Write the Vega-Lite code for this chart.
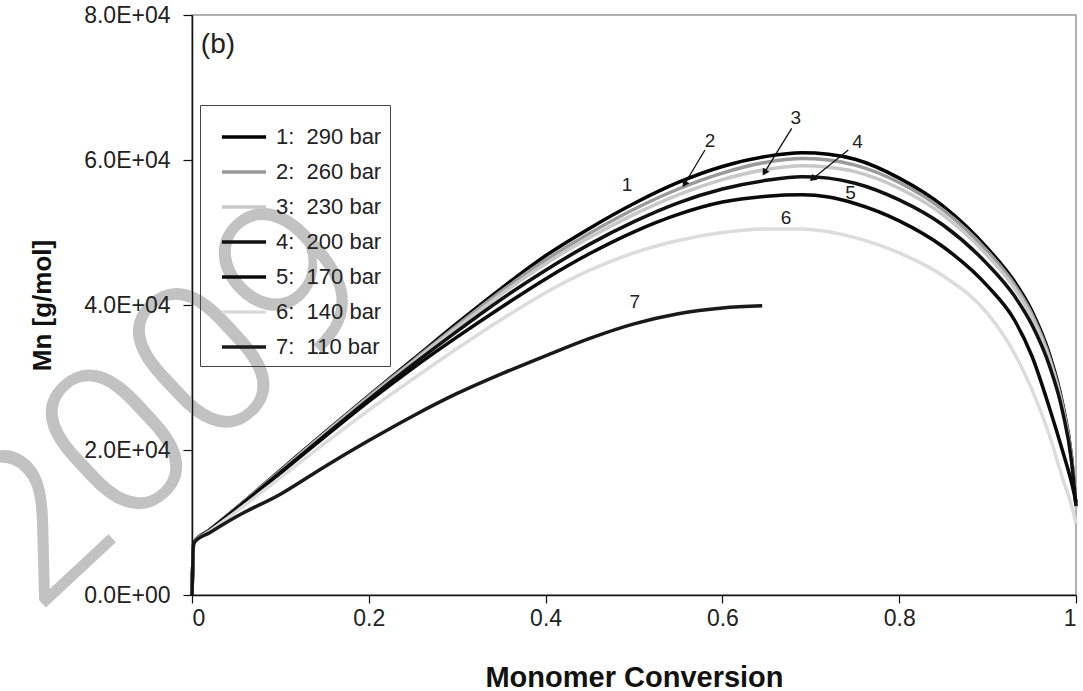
{
  "$schema": "https://vega.github.io/schema/vega-lite/v6.json",
  "width": 884,
  "height": 580,
  "autosize": {"type": "none"},
  "padding": {"left": 192, "top": 15, "right": 7, "bottom": 96},
  "background": "white",
  "config": {
    "font": "Liberation Sans",
    "view": {"stroke": "#999999", "strokeWidth": 1.5}
  },
  "datasets": {
    "curves": [
      {"series": "1:\u00a0 290 bar", "conversion": 0, "mn": 0},
      {"series": "1:\u00a0 290 bar", "conversion": 0.002, "mn": 7200},
      {"series": "1:\u00a0 290 bar", "conversion": 0.02, "mn": 9000},
      {"series": "1:\u00a0 290 bar", "conversion": 0.05, "mn": 12000},
      {"series": "1:\u00a0 290 bar", "conversion": 0.1, "mn": 17200},
      {"series": "1:\u00a0 290 bar", "conversion": 0.15, "mn": 22400},
      {"series": "1:\u00a0 290 bar", "conversion": 0.2, "mn": 27500},
      {"series": "1:\u00a0 290 bar", "conversion": 0.25, "mn": 32500},
      {"series": "1:\u00a0 290 bar", "conversion": 0.3, "mn": 37500},
      {"series": "1:\u00a0 290 bar", "conversion": 0.35, "mn": 42300},
      {"series": "1:\u00a0 290 bar", "conversion": 0.4, "mn": 46800},
      {"series": "1:\u00a0 290 bar", "conversion": 0.45, "mn": 50600},
      {"series": "1:\u00a0 290 bar", "conversion": 0.5, "mn": 54000},
      {"series": "1:\u00a0 290 bar", "conversion": 0.55, "mn": 56900},
      {"series": "1:\u00a0 290 bar", "conversion": 0.6, "mn": 59100},
      {"series": "1:\u00a0 290 bar", "conversion": 0.65, "mn": 60500},
      {"series": "1:\u00a0 290 bar", "conversion": 0.69, "mn": 61000},
      {"series": "1:\u00a0 290 bar", "conversion": 0.72, "mn": 60800},
      {"series": "1:\u00a0 290 bar", "conversion": 0.75, "mn": 60100},
      {"series": "1:\u00a0 290 bar", "conversion": 0.8, "mn": 57500},
      {"series": "1:\u00a0 290 bar", "conversion": 0.85, "mn": 53600},
      {"series": "1:\u00a0 290 bar", "conversion": 0.9, "mn": 47800},
      {"series": "1:\u00a0 290 bar", "conversion": 0.93, "mn": 43300},
      {"series": "1:\u00a0 290 bar", "conversion": 0.95, "mn": 39200},
      {"series": "1:\u00a0 290 bar", "conversion": 0.97, "mn": 33200},
      {"series": "1:\u00a0 290 bar", "conversion": 0.985, "mn": 26300},
      {"series": "1:\u00a0 290 bar", "conversion": 0.995, "mn": 19000},
      {"series": "1:\u00a0 290 bar", "conversion": 1.0, "mn": 12200},

      {"series": "2:\u00a0 260 bar", "conversion": 0, "mn": 0},
      {"series": "2:\u00a0 260 bar", "conversion": 0.002, "mn": 7200},
      {"series": "2:\u00a0 260 bar", "conversion": 0.02, "mn": 9000},
      {"series": "2:\u00a0 260 bar", "conversion": 0.05, "mn": 12000},
      {"series": "2:\u00a0 260 bar", "conversion": 0.1, "mn": 17100},
      {"series": "2:\u00a0 260 bar", "conversion": 0.15, "mn": 22300},
      {"series": "2:\u00a0 260 bar", "conversion": 0.2, "mn": 27400},
      {"series": "2:\u00a0 260 bar", "conversion": 0.25, "mn": 32300},
      {"series": "2:\u00a0 260 bar", "conversion": 0.3, "mn": 37200},
      {"series": "2:\u00a0 260 bar", "conversion": 0.35, "mn": 41900},
      {"series": "2:\u00a0 260 bar", "conversion": 0.4, "mn": 46200},
      {"series": "2:\u00a0 260 bar", "conversion": 0.45, "mn": 49900},
      {"series": "2:\u00a0 260 bar", "conversion": 0.5, "mn": 53200},
      {"series": "2:\u00a0 260 bar", "conversion": 0.55, "mn": 56000},
      {"series": "2:\u00a0 260 bar", "conversion": 0.6, "mn": 58200},
      {"series": "2:\u00a0 260 bar", "conversion": 0.65, "mn": 59700},
      {"series": "2:\u00a0 260 bar", "conversion": 0.69, "mn": 60200},
      {"series": "2:\u00a0 260 bar", "conversion": 0.72, "mn": 60000},
      {"series": "2:\u00a0 260 bar", "conversion": 0.75, "mn": 59300},
      {"series": "2:\u00a0 260 bar", "conversion": 0.8, "mn": 56900},
      {"series": "2:\u00a0 260 bar", "conversion": 0.85, "mn": 53100},
      {"series": "2:\u00a0 260 bar", "conversion": 0.9, "mn": 47400},
      {"series": "2:\u00a0 260 bar", "conversion": 0.93, "mn": 42900},
      {"series": "2:\u00a0 260 bar", "conversion": 0.95, "mn": 38800},
      {"series": "2:\u00a0 260 bar", "conversion": 0.97, "mn": 32800},
      {"series": "2:\u00a0 260 bar", "conversion": 0.985, "mn": 26000},
      {"series": "2:\u00a0 260 bar", "conversion": 0.995, "mn": 18800},
      {"series": "2:\u00a0 260 bar", "conversion": 1.0, "mn": 12200},

      {"series": "3:\u00a0 230 bar", "conversion": 0, "mn": 0},
      {"series": "3:\u00a0 230 bar", "conversion": 0.002, "mn": 7200},
      {"series": "3:\u00a0 230 bar", "conversion": 0.02, "mn": 9000},
      {"series": "3:\u00a0 230 bar", "conversion": 0.05, "mn": 11950},
      {"series": "3:\u00a0 230 bar", "conversion": 0.1, "mn": 17000},
      {"series": "3:\u00a0 230 bar", "conversion": 0.15, "mn": 22200},
      {"series": "3:\u00a0 230 bar", "conversion": 0.2, "mn": 27200},
      {"series": "3:\u00a0 230 bar", "conversion": 0.25, "mn": 32100},
      {"series": "3:\u00a0 230 bar", "conversion": 0.3, "mn": 36900},
      {"series": "3:\u00a0 230 bar", "conversion": 0.35, "mn": 41500},
      {"series": "3:\u00a0 230 bar", "conversion": 0.4, "mn": 45700},
      {"series": "3:\u00a0 230 bar", "conversion": 0.45, "mn": 49300},
      {"series": "3:\u00a0 230 bar", "conversion": 0.5, "mn": 52500},
      {"series": "3:\u00a0 230 bar", "conversion": 0.55, "mn": 55200},
      {"series": "3:\u00a0 230 bar", "conversion": 0.6, "mn": 57300},
      {"series": "3:\u00a0 230 bar", "conversion": 0.65, "mn": 58700},
      {"series": "3:\u00a0 230 bar", "conversion": 0.69, "mn": 59200},
      {"series": "3:\u00a0 230 bar", "conversion": 0.72, "mn": 59000},
      {"series": "3:\u00a0 230 bar", "conversion": 0.75, "mn": 58400},
      {"series": "3:\u00a0 230 bar", "conversion": 0.8, "mn": 56100},
      {"series": "3:\u00a0 230 bar", "conversion": 0.85, "mn": 52400},
      {"series": "3:\u00a0 230 bar", "conversion": 0.9, "mn": 46800},
      {"series": "3:\u00a0 230 bar", "conversion": 0.93, "mn": 42400},
      {"series": "3:\u00a0 230 bar", "conversion": 0.95, "mn": 38300},
      {"series": "3:\u00a0 230 bar", "conversion": 0.97, "mn": 32400},
      {"series": "3:\u00a0 230 bar", "conversion": 0.985, "mn": 25700},
      {"series": "3:\u00a0 230 bar", "conversion": 0.995, "mn": 18600},
      {"series": "3:\u00a0 230 bar", "conversion": 1.0, "mn": 12200},

      {"series": "4:\u00a0 200 bar", "conversion": 0, "mn": 0},
      {"series": "4:\u00a0 200 bar", "conversion": 0.002, "mn": 7200},
      {"series": "4:\u00a0 200 bar", "conversion": 0.02, "mn": 8950},
      {"series": "4:\u00a0 200 bar", "conversion": 0.05, "mn": 11900},
      {"series": "4:\u00a0 200 bar", "conversion": 0.1, "mn": 16900},
      {"series": "4:\u00a0 200 bar", "conversion": 0.15, "mn": 22000},
      {"series": "4:\u00a0 200 bar", "conversion": 0.2, "mn": 27000},
      {"series": "4:\u00a0 200 bar", "conversion": 0.25, "mn": 31800},
      {"series": "4:\u00a0 200 bar", "conversion": 0.3, "mn": 36400},
      {"series": "4:\u00a0 200 bar", "conversion": 0.35, "mn": 40800},
      {"series": "4:\u00a0 200 bar", "conversion": 0.4, "mn": 44800},
      {"series": "4:\u00a0 200 bar", "conversion": 0.45, "mn": 48400},
      {"series": "4:\u00a0 200 bar", "conversion": 0.5, "mn": 51500},
      {"series": "4:\u00a0 200 bar", "conversion": 0.55, "mn": 54100},
      {"series": "4:\u00a0 200 bar", "conversion": 0.6, "mn": 56000},
      {"series": "4:\u00a0 200 bar", "conversion": 0.65, "mn": 57200},
      {"series": "4:\u00a0 200 bar", "conversion": 0.69, "mn": 57700},
      {"series": "4:\u00a0 200 bar", "conversion": 0.72, "mn": 57500},
      {"series": "4:\u00a0 200 bar", "conversion": 0.75, "mn": 56800},
      {"series": "4:\u00a0 200 bar", "conversion": 0.8, "mn": 54500},
      {"series": "4:\u00a0 200 bar", "conversion": 0.85, "mn": 51000},
      {"series": "4:\u00a0 200 bar", "conversion": 0.9, "mn": 45600},
      {"series": "4:\u00a0 200 bar", "conversion": 0.93, "mn": 41300},
      {"series": "4:\u00a0 200 bar", "conversion": 0.95, "mn": 37300},
      {"series": "4:\u00a0 200 bar", "conversion": 0.97, "mn": 31600},
      {"series": "4:\u00a0 200 bar", "conversion": 0.985, "mn": 25200},
      {"series": "4:\u00a0 200 bar", "conversion": 0.995, "mn": 18400},
      {"series": "4:\u00a0 200 bar", "conversion": 1.0, "mn": 12300},

      {"series": "5:\u00a0 170 bar", "conversion": 0, "mn": 0},
      {"series": "5:\u00a0 170 bar", "conversion": 0.002, "mn": 7200},
      {"series": "5:\u00a0 170 bar", "conversion": 0.02, "mn": 8900},
      {"series": "5:\u00a0 170 bar", "conversion": 0.05, "mn": 11800},
      {"series": "5:\u00a0 170 bar", "conversion": 0.1, "mn": 16800},
      {"series": "5:\u00a0 170 bar", "conversion": 0.15, "mn": 21800},
      {"series": "5:\u00a0 170 bar", "conversion": 0.2, "mn": 26700},
      {"series": "5:\u00a0 170 bar", "conversion": 0.25, "mn": 31300},
      {"series": "5:\u00a0 170 bar", "conversion": 0.3, "mn": 35600},
      {"series": "5:\u00a0 170 bar", "conversion": 0.35, "mn": 39700},
      {"series": "5:\u00a0 170 bar", "conversion": 0.4, "mn": 43600},
      {"series": "5:\u00a0 170 bar", "conversion": 0.45, "mn": 47100},
      {"series": "5:\u00a0 170 bar", "conversion": 0.5, "mn": 50100},
      {"series": "5:\u00a0 170 bar", "conversion": 0.55, "mn": 52500},
      {"series": "5:\u00a0 170 bar", "conversion": 0.6, "mn": 54200},
      {"series": "5:\u00a0 170 bar", "conversion": 0.65, "mn": 55000},
      {"series": "5:\u00a0 170 bar", "conversion": 0.69, "mn": 55200},
      {"series": "5:\u00a0 170 bar", "conversion": 0.72, "mn": 54900},
      {"series": "5:\u00a0 170 bar", "conversion": 0.75, "mn": 54000},
      {"series": "5:\u00a0 170 bar", "conversion": 0.8, "mn": 51600},
      {"series": "5:\u00a0 170 bar", "conversion": 0.85, "mn": 48000},
      {"series": "5:\u00a0 170 bar", "conversion": 0.9, "mn": 42600},
      {"series": "5:\u00a0 170 bar", "conversion": 0.93, "mn": 38000},
      {"series": "5:\u00a0 170 bar", "conversion": 0.95, "mn": 33000},
      {"series": "5:\u00a0 170 bar", "conversion": 0.97, "mn": 25800},
      {"series": "5:\u00a0 170 bar", "conversion": 0.985, "mn": 19800},
      {"series": "5:\u00a0 170 bar", "conversion": 0.995, "mn": 15500},
      {"series": "5:\u00a0 170 bar", "conversion": 1.0, "mn": 12800},

      {"series": "6:\u00a0 140 bar", "conversion": 0, "mn": 0},
      {"series": "6:\u00a0 140 bar", "conversion": 0.002, "mn": 7200},
      {"series": "6:\u00a0 140 bar", "conversion": 0.02, "mn": 8800},
      {"series": "6:\u00a0 140 bar", "conversion": 0.05, "mn": 11500},
      {"series": "6:\u00a0 140 bar", "conversion": 0.1, "mn": 16200},
      {"series": "6:\u00a0 140 bar", "conversion": 0.15, "mn": 20900},
      {"series": "6:\u00a0 140 bar", "conversion": 0.2, "mn": 25500},
      {"series": "6:\u00a0 140 bar", "conversion": 0.25, "mn": 29800},
      {"series": "6:\u00a0 140 bar", "conversion": 0.3, "mn": 34000},
      {"series": "6:\u00a0 140 bar", "conversion": 0.35, "mn": 38000},
      {"series": "6:\u00a0 140 bar", "conversion": 0.4, "mn": 41700},
      {"series": "6:\u00a0 140 bar", "conversion": 0.45, "mn": 44800},
      {"series": "6:\u00a0 140 bar", "conversion": 0.5, "mn": 47200},
      {"series": "6:\u00a0 140 bar", "conversion": 0.55, "mn": 48900},
      {"series": "6:\u00a0 140 bar", "conversion": 0.6, "mn": 50000},
      {"series": "6:\u00a0 140 bar", "conversion": 0.65, "mn": 50500},
      {"series": "6:\u00a0 140 bar", "conversion": 0.69, "mn": 50500},
      {"series": "6:\u00a0 140 bar", "conversion": 0.72, "mn": 50100},
      {"series": "6:\u00a0 140 bar", "conversion": 0.75, "mn": 49300},
      {"series": "6:\u00a0 140 bar", "conversion": 0.8, "mn": 47200},
      {"series": "6:\u00a0 140 bar", "conversion": 0.85, "mn": 44000},
      {"series": "6:\u00a0 140 bar", "conversion": 0.9, "mn": 38800},
      {"series": "6:\u00a0 140 bar", "conversion": 0.93, "mn": 33400},
      {"series": "6:\u00a0 140 bar", "conversion": 0.95, "mn": 28400},
      {"series": "6:\u00a0 140 bar", "conversion": 0.97, "mn": 22000},
      {"series": "6:\u00a0 140 bar", "conversion": 0.985, "mn": 16000},
      {"series": "6:\u00a0 140 bar", "conversion": 0.995, "mn": 12300},
      {"series": "6:\u00a0 140 bar", "conversion": 1.0, "mn": 9900},

      {"series": "7:\u00a0 110 bar", "conversion": 0, "mn": 0},
      {"series": "7:\u00a0 110 bar", "conversion": 0.002, "mn": 7200},
      {"series": "7:\u00a0 110 bar", "conversion": 0.02, "mn": 8600},
      {"series": "7:\u00a0 110 bar", "conversion": 0.05, "mn": 10800},
      {"series": "7:\u00a0 110 bar", "conversion": 0.1, "mn": 13900},
      {"series": "7:\u00a0 110 bar", "conversion": 0.15, "mn": 17700},
      {"series": "7:\u00a0 110 bar", "conversion": 0.2, "mn": 21300},
      {"series": "7:\u00a0 110 bar", "conversion": 0.25, "mn": 24700},
      {"series": "7:\u00a0 110 bar", "conversion": 0.3, "mn": 27800},
      {"series": "7:\u00a0 110 bar", "conversion": 0.35, "mn": 30500},
      {"series": "7:\u00a0 110 bar", "conversion": 0.4, "mn": 33000},
      {"series": "7:\u00a0 110 bar", "conversion": 0.45, "mn": 35400},
      {"series": "7:\u00a0 110 bar", "conversion": 0.5, "mn": 37400},
      {"series": "7:\u00a0 110 bar", "conversion": 0.55, "mn": 38800},
      {"series": "7:\u00a0 110 bar", "conversion": 0.6, "mn": 39600},
      {"series": "7:\u00a0 110 bar", "conversion": 0.645, "mn": 39900}
    ],
    "labels": [
      {"label": "1", "conversion": 0.492, "mn": 56550},
      {"label": "2", "conversion": 0.586, "mn": 62620},
      {"label": "3", "conversion": 0.683, "mn": 65790},
      {"label": "4", "conversion": 0.753, "mn": 62480},
      {"label": "5", "conversion": 0.745, "mn": 55450},
      {"label": "6", "conversion": 0.672, "mn": 52000},
      {"label": "7", "conversion": 0.501, "mn": 40410}
    ],
    "arrows": [
      {"arrow": "2", "conversion": 0.5803, "mn": 61380, "conversion2": 0.5577, "mn2": 56790},
      {"arrow": "3", "conversion": 0.6784, "mn": 64370, "conversion2": 0.6482, "mn2": 58390},
      {"arrow": "4", "conversion": 0.7424, "mn": 61380, "conversion2": 0.7028, "mn2": 57480}
    ],
    "panel": [
      {"text": "(b)", "conversion": 0.01, "mn": 75800}
    ],
    "watermark": [
      {"text": "2009", "conversion": -0.03, "mn": 25930}
    ]
  },
  "encoding": {
    "x": {
      "field": "conversion", "type": "quantitative",
      "scale": {"domain": [0, 1], "nice": false},
      "axis": {
        "title": "Monomer Conversion",
        "values": [0, 0.2, 0.4, 0.6, 0.8, 1],
        "format": "~g",
        "grid": false,
        "zindex": 1,
        "domainColor": "#111111", "domainWidth": 1.5,
        "tickColor": "#111111", "tickWidth": 1.2, "tickSize": 8,
        "labelFontSize": 23, "labelColor": "#222222", "labelPadding": 4,
        "titleFontSize": 29, "titleFontWeight": "bold", "titleColor": "#111111", "titlePadding": 33
      }
    },
    "y": {
      "field": "mn", "type": "quantitative",
      "scale": {"domain": [0, 80000], "nice": false},
      "axis": {
        "title": "Mn [g/mol]",
        "values": [0, 20000, 40000, 60000, 80000],
        "labelExpr": "format(datum.value / 10000, '.1f') + (datum.value == 0 ? 'E+00' : 'E+04')",
        "grid": false,
        "zindex": 1,
        "domainColor": "#111111", "domainWidth": 1.5,
        "tickColor": "#111111", "tickWidth": 1.2, "tickSize": 9,
        "labelFontSize": 23, "labelColor": "#222222", "labelPadding": 13,
        "titleFontSize": 26, "titleFontWeight": "bold", "titleColor": "#111111", "titlePadding": 28
      }
    }
  },
  "layer": [
    {
      "data": {"name": "watermark"},
      "mark": {"type": "text", "font": "Roboto", "fontWeight": 300, "fontSize": 215, "angle": -43, "align": "center", "baseline": "middle", "color": "#c2c2c2"},
      "encoding": {"text": {"field": "text"}}
    },
    {
      "data": {"name": "curves"},
      "mark": {"type": "line", "interpolate": "monotone"},
      "encoding": {
        "color": {
          "field": "series", "type": "nominal",
          "scale": {
            "domain": ["1:\u00a0 290 bar", "2:\u00a0 260 bar", "3:\u00a0 230 bar", "4:\u00a0 200 bar", "5:\u00a0 170 bar", "6:\u00a0 140 bar", "7:\u00a0 110 bar"],
            "range": ["#000000", "#9a9a9a", "#c8c8c8", "#111111", "#0a0a0a", "#dcdcdc", "#1a1a1a"]
          },
          "legend": {
            "title": null, "orient": "none", "legendX": 8, "legendY": 90,
            "symbolType": "stroke", "symbolSize": 1950, "symbolStrokeWidth": 2.5, "labelFontSize": 22, "labelColor": "#222222",
            "labelOffset": 8, "rowPadding": 0, "padding": 8, "symbolOffset": 12,
            "strokeColor": "#444444", "fillColor": null
          }
        },
        "strokeWidth": {
          "field": "series", "type": "nominal",
          "scale": {
            "domain": ["1:\u00a0 290 bar", "2:\u00a0 260 bar", "3:\u00a0 230 bar", "4:\u00a0 200 bar", "5:\u00a0 170 bar", "6:\u00a0 140 bar", "7:\u00a0 110 bar"],
            "range": [3.5, 3.5, 3, 1.2, 2.5, 2.5, 1.5]
          },
          "legend": null
        }
      }
    },
    {
      "data": {"name": "labels"},
      "mark": {"type": "text", "fontSize": 19, "color": "#222222", "align": "center", "baseline": "middle"},
      "encoding": {"text": {"field": "label"}}
    },
    {
      "data": {"name": "arrows"},
      "mark": {"type": "rule", "color": "#111111", "strokeWidth": 1.3},
      "encoding": {
        "x2": {"field": "conversion2"},
        "y2": {"field": "mn2"}
      }
    },
    {
      "data": {"name": "arrows"},
      "transform": [{"filter": "datum.arrow == '2'"}],
      "mark": {"type": "point", "shape": "triangle", "filled": true, "color": "#111111", "size": 60, "angle": 211, "opacity": 1},
      "encoding": {"x": {"field": "conversion2", "type": "quantitative"}, "y": {"field": "mn2", "type": "quantitative"}}
    },
    {
      "data": {"name": "arrows"},
      "transform": [{"filter": "datum.arrow == '3'"}],
      "mark": {"type": "point", "shape": "triangle", "filled": true, "color": "#111111", "size": 60, "angle": 212, "opacity": 1},
      "encoding": {"x": {"field": "conversion2", "type": "quantitative"}, "y": {"field": "mn2", "type": "quantitative"}}
    },
    {
      "data": {"name": "arrows"},
      "transform": [{"filter": "datum.arrow == '4'"}],
      "mark": {"type": "point", "shape": "triangle", "filled": true, "color": "#111111", "size": 60, "angle": 231, "opacity": 1},
      "encoding": {"x": {"field": "conversion2", "type": "quantitative"}, "y": {"field": "mn2", "type": "quantitative"}}
    },
    {
      "data": {"name": "panel"},
      "mark": {"type": "text", "fontSize": 28, "color": "#222222", "align": "left", "baseline": "middle"},
      "encoding": {"text": {"field": "text"}}
    }
  ]
}
